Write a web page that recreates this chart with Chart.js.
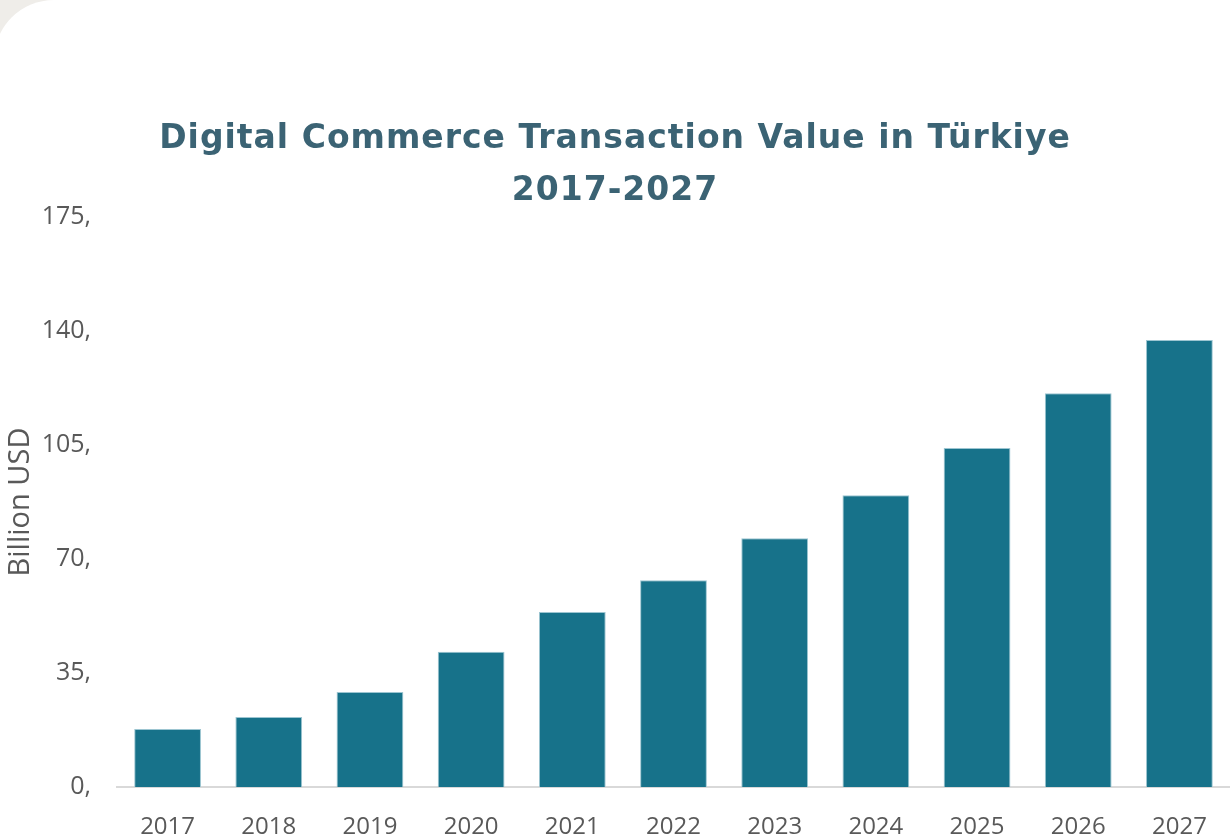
<!DOCTYPE html>
<html>
<head>
<meta charset="utf-8">
<title>Digital Commerce Transaction Value in Türkiye</title>
<script src="https://cdn.jsdelivr.net/npm/chart.js@4.4.1/dist/chart.umd.min.js"></script>
<style>
  html, body { margin: 0; padding: 0; }
  body { width: 1230px; height: 839px; overflow: hidden; background: #efede9; position: relative; }
  .card { position: absolute; left: -6px; top: 0; width: 1300px; height: 900px; background: #fff; border-radius: 60px; }
  #chart { position: absolute; left: 0; top: 0; }
</style>
</head>
<body>
<div class="card"></div>
<canvas id="chart" width="1230" height="839"></canvas>
<script>
// transaction value per year, billion USD
const years = ['2017', '2018', '2019', '2020', '2021', '2022', '2023', '2024', '2025', '2026', '2027'];
const values = [17.8, 21.5, 29.2, 41.5, 53.7, 63.5, 76.4, 89.6, 104.1, 120.9, 137.2];
const yMax = 175;
const yStep = 35;
const titleLines = ['Digital Commerce Transaction Value in Türkiye', '2017-2027'];

const tickColor = '#595959';
const barColor = '#17728a';

// Title font has no wide-bodied match installed, so open it up with a bit of tracking
const spacedTitle = {
    id: 'spacedTitle',
    beforeDraw(chart) {
        const block = chart.titleBlock;
        if (!block || block._spaced) return;
        const draw = block.draw.bind(block);
        block.draw = function () {
            chart.ctx.save();
            chart.ctx.letterSpacing = '1px';
            draw();
            chart.ctx.restore();
        };
        block._spaced = true;
    }
};

const ctx = document.getElementById('chart').getContext('2d');
new Chart(ctx, {
    type: 'bar',
    data: {
        labels: years,
        datasets: [{
            label: 'Billion USD',
            data: values,
            backgroundColor: barColor,
            borderColor: '#9cc5d1',
            borderWidth: 1,
            categoryPercentage: 1,
            barPercentage: 0.66
        }]
    },
    options: {
        responsive: false,
        animation: false,
        layout: { padding: { top: 108, left: 0, right: 0, bottom: 0 } },
        plugins: {
            legend: { display: false },
            tooltip: { enabled: false },
            title: {
                display: true,
                text: titleLines,
                color: '#3b6374',
                font: { family: 'DejaVu Sans', size: 33, weight: 'bold', lineHeight: '52px' },
                padding: { top: 5, bottom: 0 }
            }
        },
        scales: {
            x: {
                grid: { display: false },
                border: { display: true, color: '#d9d9d9', width: 2 },
                ticks: {
                    color: tickColor,
                    font: { family: 'Open Sans', size: 24 },
                    padding: 18,
                    maxRotation: 0
                },
                afterFit(scale) { scale.height = 52; }
            },
            y: {
                min: 0,
                max: yMax,
                grid: { display: false },
                border: { display: false },
                ticks: {
                    stepSize: yStep,
                    color: tickColor,
                    font: { family: 'Open Sans', size: 25 },
                    padding: 18,
                    callback: (v) => v + ','
                },
                title: {
                    display: true,
                    text: 'Billion USD',
                    color: tickColor,
                    font: { family: 'Open Sans', size: 29, lineHeight: 1.2 },
                    padding: { top: 3, bottom: 0 }
                },
                afterFit(scale) { scale.width = 117; }
            }
        }
    },
    plugins: [spacedTitle]
});
</script>
</body>
</html>
